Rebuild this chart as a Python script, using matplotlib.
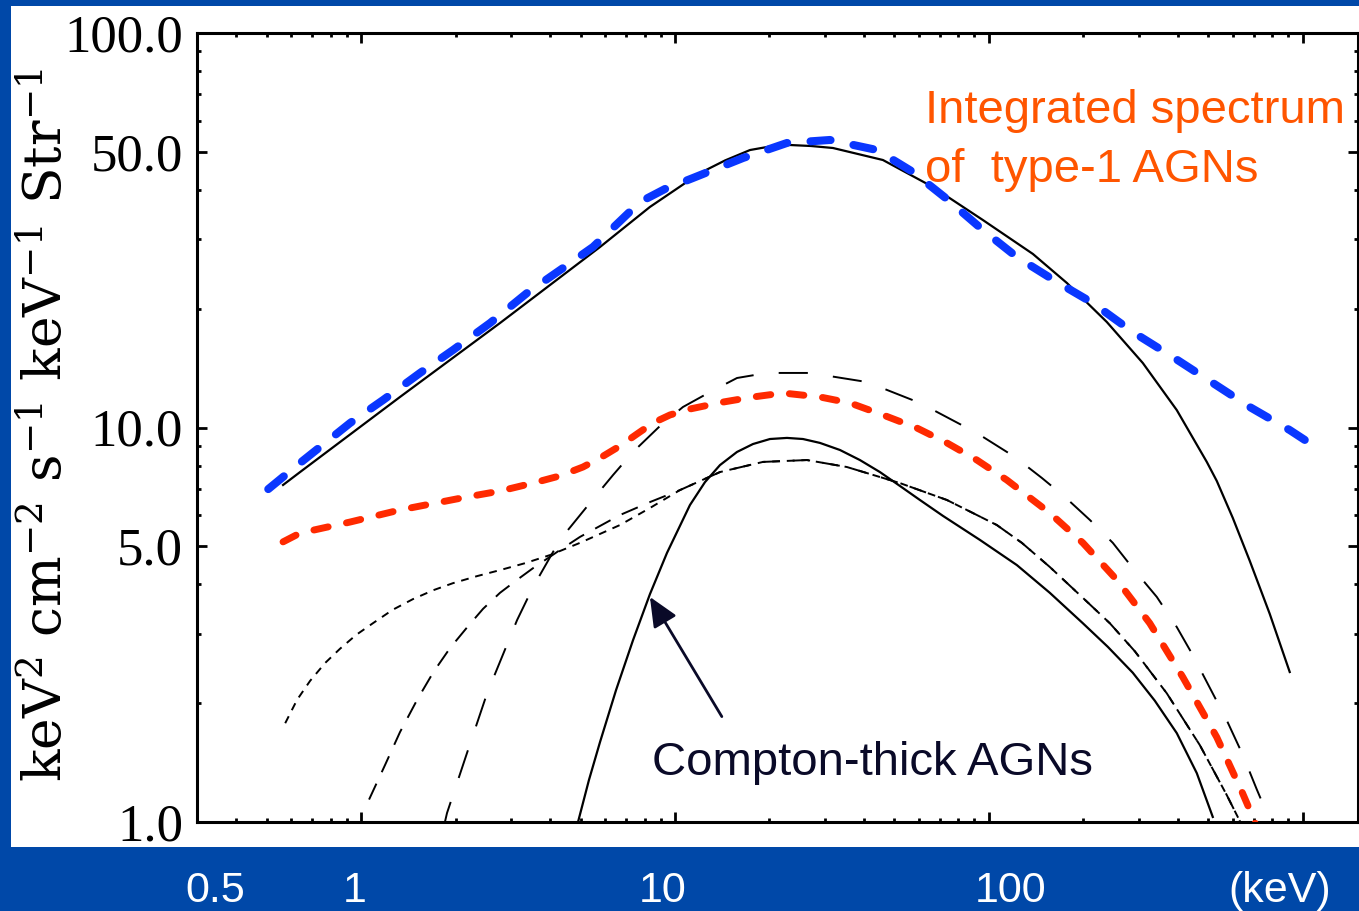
import matplotlib
matplotlib.use('Agg')
import matplotlib.pyplot as plt
from matplotlib.patches import Rectangle
from matplotlib.ticker import LogLocator, NullFormatter, FixedLocator, FixedFormatter

# ---------------- data (energy keV, E^2 dN/dE) ----------------
blue_E = [0.506, 0.639, 0.923, 1.175, 1.541, 1.963, 2.576, 3.379, 4.399, 5.481, 7.736, 9.29,
          11.41, 16.47, 22.74, 31.16, 44.0, 57.3, 73.5, 95.7, 122.8, 164.7, 214.4, 287.4,
          385.5, 516.9, 678.1, 909.0, 1015.0]
blue_F = [6.98, 8.13, 10.27, 11.74, 13.75, 15.72, 18.40, 21.93, 25.37, 28.68, 37.29, 40.23,
          42.90, 48.21, 52.63, 53.56, 50.51, 44.43, 37.95, 31.67, 27.05, 23.38, 20.68, 17.46,
          15.09, 12.97, 11.27, 9.85, 9.30]

total_E = [0.564, 0.639, 1.33, 2.77, 5.77, 8.32, 12.02, 14.43, 17.34, 20.07, 23.24, 27.11,
           31.86, 45.97, 66.3, 95.7, 138.1, 177.2, 237.6, 309.4, 396.9, 494.7, 532.3, 598.6,
           678.1, 785.0, 909.0]
total_F = [7.15, 7.71, 11.95, 18.40, 28.68, 36.23, 44.17, 47.52, 50.51, 51.56, 52.01, 51.71,
           51.11, 47.65, 40.71, 33.57, 27.54, 23.25, 18.51, 14.57, 11.07, 8.18, 7.32, 5.90,
           4.59, 3.37, 2.40]

red_E = [0.564, 0.639, 0.923, 1.33, 2.18, 2.77, 3.53, 4.30, 5.09, 5.77, 6.68, 7.57, 8.51,
         9.64, 11.16, 14.22, 17.72, 22.08, 28.96, 36.08, 45.97, 58.98, 73.5, 91.6, 114.1,
         156.4, 199.3, 255.6, 325.6, 414.8, 532.3, 644.1, 693.1, 718.9]
red_F = [5.13, 5.40, 5.76, 6.18, 6.67, 6.90, 7.23, 7.54, 7.94, 8.37, 8.98, 9.63, 10.27,
         10.76, 11.14, 11.60, 11.95, 12.23, 11.95, 11.54, 10.76, 9.97, 9.14, 8.27, 7.36,
         6.07, 5.10, 4.11, 3.19, 2.33, 1.64, 1.18, 1.03, 0.954]

longdash_E = [1.824, 1.878, 2.18, 2.52, 3.14, 3.53, 4.30, 5.36, 6.35, 7.35, 8.96, 10.60,
              12.93, 15.76, 19.63, 26.91, 40.88, 60.31, 91.6, 121.0, 147.5, 174.6, 209.8,
              248.3, 287.4, 342.8, 396.9, 446.3, 505.6, 572.8, 644.1, 713.7, 768.1, 785.0]
longdash_F = [0.954, 1.054, 1.505, 2.12, 3.25, 3.94, 5.19, 6.44, 7.58, 8.67, 10.09, 11.27,
              12.30, 13.35, 13.75, 13.75, 13.04, 11.54, 9.68, 8.42, 7.45, 6.67, 5.83,
              5.10, 4.40, 3.72, 3.12, 2.65, 2.19, 1.81, 1.48, 1.21, 1.054, 1.0]

# common high-energy part of the two lower dashed components
tail_E = [13.91, 19.07, 26.33, 35.30, 52.07, 73.5, 106.0, 127.4, 156.4, 199.3, 242.9, 291.7,
          368.8, 469.9, 572.8, 639.4]
tail_F = [7.71, 8.18, 8.27, 7.94, 7.23, 6.55, 5.66, 5.10, 4.43, 3.70, 3.19, 2.71,
          2.12, 1.567, 1.17, 0.983]

dotted_E = [0.573, 0.625, 0.688, 0.768, 0.857, 0.964, 1.09, 1.26, 1.46, 1.70, 1.96, 2.34,
            2.77, 3.33, 4.00, 4.98, 6.68, 8.32, 10.37] + tail_E
dotted_F = [1.78, 2.04, 2.28, 2.53, 2.75, 2.98, 3.19, 3.45, 3.67, 3.87, 4.03, 4.20,
            4.35, 4.53, 4.75, 5.10, 5.66, 6.25, 6.94] + tail_F

medium_E = [1.06, 1.192, 1.33, 1.508, 1.70, 1.920, 2.18, 2.446, 2.77, 3.14, 3.53, 4.30,
            4.98, 6.68, 8.32, 10.37] + tail_E
medium_F = [1.14, 1.395, 1.69, 2.04, 2.40, 2.76, 3.12, 3.47, 3.81, 4.11, 4.40, 4.89,
            5.28, 6.00, 6.47, 6.94] + tail_F

ct_E = [4.91, 5.32, 5.77, 6.49, 7.35, 8.32, 9.43, 11.16, 12.46, 13.91, 15.76, 17.72, 20.07,
        22.74, 25.57, 28.96, 33.54, 38.83, 44.97, 52.07, 60.31, 71.4, 93.6, 122.8, 156.4,
        199.3, 239.3, 287.4, 337.8, 396.9, 459.7, 516.9]
ct_F = [1.0, 1.278, 1.595, 2.16, 2.89, 3.78, 4.81, 6.36, 7.27, 8.03, 8.67, 9.08, 9.35,
        9.41, 9.35, 9.14, 8.77, 8.27, 7.71, 7.11, 6.55, 5.97, 5.19, 4.48, 3.81,
        3.19, 2.78, 2.39, 2.03, 1.68, 1.33, 1.03]

ytick_vals = [1, 5, 10, 50, 100]
ytick_labels = ['1.0', '5.0', '10.0', '50.0', '100.0']
xlabels = ['0.5', '1', '10', '100', '(keV)']
xlabel_pos = [215, 355, 663, 1011, 1280]   # pixel centres of slide labels

# ---------------- figure ----------------
W, H = 1359, 911
plt.rcParams['mathtext.default'] = 'regular'
fig = plt.figure(figsize=(W / 100, H / 100), dpi=100)
fig.patch.set_facecolor('#0048a8')
fig.add_artist(Rectangle((11 / W, 64 / H), (W - 11) / W, 841 / H,
                         transform=fig.transFigure, facecolor='white',
                         edgecolor='none', zorder=-5))

ax = fig.add_axes([197 / W, 89 / H, 1161 / W, 789 / H])
ax.set_xscale('log')
ax.set_yscale('log')
ax.set_xlim(0.3, 1500)
ax.set_ylim(1, 100)

black = 'black'
ax.plot(total_E, total_F, color=black, lw=1.6, zorder=3)
ax.plot(ct_E, ct_F, color=black, lw=1.6, zorder=3)
ax.plot(longdash_E, longdash_F, color=black, lw=1.4, dashes=(15, 13), zorder=3)
ax.plot(medium_E, medium_F, color=black, lw=1.4, dashes=(9, 6.5), zorder=3)
ax.plot(dotted_E, dotted_F, color=black, lw=1.4, dashes=(4, 3.5), zorder=3)
ax.plot(red_E, red_F, color='#ff2a00', lw=5.0, dashes=(2.1, 2.7),
        dash_capstyle='round', zorder=4)
ax.plot(blue_E, blue_F, color='#0a37ff', lw=5.8, dashes=(2.5, 2.9),
        dash_capstyle='round', zorder=5)

# axes styling
for s in ax.spines.values():
    s.set_linewidth(2.2)
ax.xaxis.set_major_locator(LogLocator(base=10, numticks=20))
ax.xaxis.set_minor_locator(LogLocator(base=10, subs=range(2, 10), numticks=50))
ax.xaxis.set_major_formatter(NullFormatter())
ax.xaxis.set_minor_formatter(NullFormatter())
ax.yaxis.set_major_locator(FixedLocator(ytick_vals))
ax.yaxis.set_major_formatter(FixedFormatter(ytick_labels))
ax.yaxis.set_minor_locator(LogLocator(base=10, subs=range(2, 10), numticks=50))
ax.yaxis.set_minor_formatter(NullFormatter())
ax.tick_params(which='both', direction='in', top=True, right=True, width=2.0)
ax.tick_params(which='major', length=7.5, pad=10)
ax.tick_params(which='minor', length=3.2)
for lab in ax.get_yticklabels():
    lab.set_fontfamily('Liberation Serif')
    lab.set_fontsize(38)

# y label
fig.text(47 / W, 1 - 425 / H,
         r'keV$^2$ cm$^{-2}$ s$^{-1}$ keV$^{-1}$ Str$^{-1}$',
         rotation=90, ha='center', va='center', fontsize=38.5,
         family='DejaVu Serif', color='black')

# annotations
orange = '#ff5500'
fig.text(925 / W, 1 - 123 / H, 'Integrated spectrum', fontsize=34,
         family='Liberation Sans', color=orange, ha='left', va='baseline')
fig.text(925 / W, 1 - 182 / H, 'of  type-1 AGNs', fontsize=34,
         family='Liberation Sans', color=orange, ha='left', va='baseline')

navy = '#0a0a28'
fig.text(652 / W, 1 - 775 / H, 'Compton-thick AGNs', fontsize=34,
         family='Liberation Sans', color=navy, ha='left', va='baseline')
ax.annotate('', xy=(8.32, 3.72), xytext=(14.1, 1.85),
            arrowprops=dict(arrowstyle='-|>,head_length=0.9,head_width=0.4',
                            mutation_scale=20, lw=2.0, color=navy,
                            shrinkA=0, shrinkB=0), zorder=6)

# slide x-axis labels
for lab, px in zip(xlabels, xlabel_pos):
    fig.text(px / W, 1 - 902 / H, lab, fontsize=31, family='Liberation Sans',
             color='white', ha='center', va='baseline')

fig.savefig('out.png', dpi=100, facecolor=fig.get_facecolor())
